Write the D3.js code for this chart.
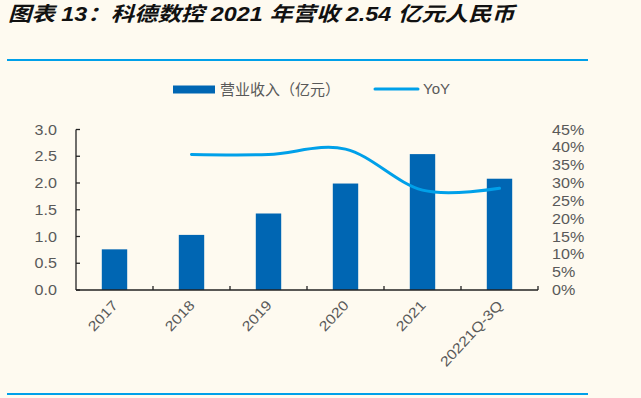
<!DOCTYPE html>
<html><head><meta charset="utf-8">
<script src="https://cdn.jsdelivr.net/npm/d3@7"></script>
<style>
html,body{margin:0;padding:0;background:#fefaf0;}
svg{display:block;}
text{font-family:"Liberation Sans","Noto Sans CJK SC",Arial,sans-serif;}
</style></head>
<body><svg id="c" width="641" height="398"></svg>
<script>
const categories = ["2017","2018","2019","2020","2021","20221Q-3Q"];
const revenue = [0.76, 1.03, 1.43, 1.99, 2.54, 2.08];
const yoy = [null, 38.0, 38.0, 39.5, 28.0, 28.5];
const leftTicks = [0,0.5,1,1.5,2,2.5,3];
const rightTicks = [0,5,10,15,20,25,30,35,40,45];
const title = "图表 13：科德数控 2021 年营收 2.54 亿元人民币";
const legendLabels = ["营业收入（亿元）","YoY"];

const barColor = "#0066b3", lineColor = "#00a0e9", textColor = "#595959";
const sx = 1.15;
const svg = d3.select("#c");
svg.append("rect").attr("width",641).attr("height",398).attr("fill","#fefaf0");

svg.append("g").attr("transform",`translate(8,20.5) scale(1.17,1)`)
  .append("text").attr("font-size",20).attr("font-weight","bold").attr("font-style","italic")
  .attr("fill","#111").text(title);
svg.append("line").attr("x1",7).attr("x2",588).attr("y1",60).attr("y2",60)
  .attr("stroke",lineColor).attr("stroke-width",2);
svg.append("line").attr("x1",7).attr("x2",588).attr("y1",394).attr("y2",394)
  .attr("stroke",lineColor).attr("stroke-width",2);

const x = d3.scaleBand().domain(categories).range([76,538]).padding(0);
const yL = d3.scaleLinear().domain([0,3]).range([290,129.5]);
const yR = d3.scaleLinear().domain([0,45]).range([290,129.5]);
const bw = x.bandwidth()*0.33;

svg.append("g").selectAll("rect").data(categories).join("rect")
  .attr("x",d=>x(d)+x.bandwidth()/2-bw/2)
  .attr("width",bw)
  .attr("y",(d,i)=>yL(revenue[i]))
  .attr("height",(d,i)=>yL(0)-yL(revenue[i]))
  .attr("fill",barColor);

// left axis
const gl = svg.append("g").attr("transform","translate(76,0)");
gl.append("line").attr("y1",yL(3)).attr("y2",yL(0)).attr("stroke","#222").attr("stroke-width",1.3);
gl.selectAll("line.t").data(leftTicks).join("line").attr("class","t")
  .attr("x1",0).attr("x2",4).attr("y1",d=>yL(d)).attr("y2",d=>yL(d)).attr("stroke","#222").attr("stroke-width",1.3);
gl.selectAll("g.l").data(leftTicks).join("g").attr("class","l")
  .attr("transform",d=>`translate(-19,${yL(d)}) scale(${sx},1)`)
  .append("text").attr("dy","0.36em").attr("text-anchor","end")
  .attr("font-size",14).attr("fill",textColor).text(d=>d3.format(".1f")(d));

// bottom axis
const gb = svg.append("g");
gb.append("line").attr("x1",76).attr("x2",538).attr("y1",290).attr("y2",290).attr("stroke","#222").attr("stroke-width",1.3);
const bticks = categories.map(c=>x(c)).slice(1).concat([538]);
gb.selectAll("line.t").data(bticks).join("line").attr("class","t")
  .attr("x1",d=>d).attr("x2",d=>d).attr("y1",290).attr("y2",286).attr("stroke","#222").attr("stroke-width",1.3);
gb.selectAll("g.xl").data(categories).join("g").attr("class","xl")
  .attr("transform",d=>`translate(${x(d)+x.bandwidth()/2+4},${306}) rotate(-47) scale(${sx},1)`)
  .append("text").attr("text-anchor","end").attr("font-size",14).attr("fill",textColor).text(d=>d);

// right axis labels
svg.append("g").selectAll("g").data(rightTicks).join("g")
  .attr("transform",d=>`translate(552,${yR(d)}) scale(${sx},1)`)
  .append("text").attr("dy","0.36em")
  .attr("font-size",14).attr("fill",textColor).text(d=>d+"%");

// line
const pts = categories.map((c,i)=>[x(c)+x.bandwidth()/2, yoy[i]]).filter(p=>p[1]!=null);
const lineGen = d3.line().x(p=>p[0]).y(p=>yR(p[1])).curve(d3.curveCardinal.tension(0));
svg.append("path").attr("d",lineGen(pts)).attr("fill","none").attr("stroke",lineColor)
  .attr("stroke-width",3).attr("stroke-linecap","round");

// legend
svg.append("rect").attr("x",173).attr("y",85.5).attr("width",42).attr("height",8).attr("fill",barColor);
svg.append("text").attr("x",220).attr("y",89.5).attr("dy","0.36em").attr("font-size",15).attr("fill",textColor).text(legendLabels[0]);
svg.append("line").attr("x1",375).attr("x2",418).attr("y1",89).attr("y2",89).attr("stroke",lineColor).attr("stroke-width",3).attr("stroke-linecap","round");
svg.append("text").attr("x",423).attr("y",89).attr("dy","0.36em").attr("font-size",15).attr("fill",textColor).text(legendLabels[1]);
</script></body></html>
